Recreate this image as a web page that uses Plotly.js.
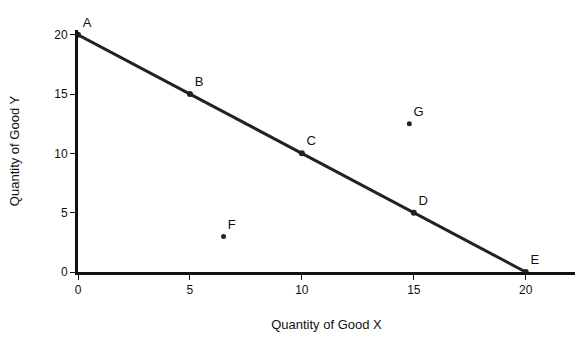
<!DOCTYPE html>
<html>
<head>
<meta charset="utf-8">
<script src="https://cdn.plot.ly/plotly-3.0.1.min.js"></script>
<style>html,body{margin:0;padding:0;background:#fff;}#chart{width:581px;height:358px;}</style>
</head>
<body>
<div id="chart"></div>
<script>
// Frontier points
const goodX = [0, 5, 10, 15, 20];
const goodY = [20, 15, 10, 5, 0];
const pointLabels = ["A", "B", "C", "D", "E"];
// Points off the frontier
const offX = [6.5, 14.8];
const offY = [3, 12.5];
const offLabels = ["F", "G"];
// Axis ticks
const xTicks = [0, 5, 10, 15, 20];
const yTicks = [0, 5, 10, 15, 20];
const xTitle = "Quantity of Good X";
const yTitle = "Quantity of Good Y";

const traces = [
  {
    x: goodX, y: goodY, mode: "lines+markers+text", type: "scatter",
    line: {color: "#222", width: 3},
    marker: {color: "#222", size: 6},
    text: pointLabels, textposition: "top right",
    textfont: {family: "Liberation Sans, Arial, sans-serif", size: 13, color: "#111"},
    cliponaxis: false, hoverinfo: "none"
  },
  {
    x: offX, y: offY, mode: "markers+text", type: "scatter",
    marker: {color: "#222", size: 5},
    text: offLabels, textposition: "top right",
    textfont: {family: "Liberation Sans, Arial, sans-serif", size: 13, color: "#111"},
    cliponaxis: false, hoverinfo: "none"
  }
];

const layout = {
  width: 581, height: 358,
  margin: {l: 78, r: 6, t: 30, b: 86},
  paper_bgcolor: "#fff", plot_bgcolor: "#fff",
  showlegend: false,
  font: {family: "Liberation Sans, Arial, sans-serif", size: 12, color: "#111"},
  xaxis: {
    range: [0, 22.2], tickvals: xTicks, ticktext: xTicks.map(String),
    showgrid: false, zeroline: false, showline: true, linecolor: "#111", linewidth: 3,
    ticks: "outside", ticklen: 5, tickcolor: "#111",
    title: {text: xTitle, font: {size: 13}, standoff: 24}
  },
  yaxis: {
    range: [0, 20.4], tickvals: yTicks, ticktext: yTicks.map(String),
    showgrid: false, zeroline: false, showline: true, linecolor: "#111", linewidth: 3,
    ticks: "outside", ticklen: 5, tickcolor: "#111",
    title: {text: yTitle, font: {size: 13}, standoff: 32}
  }
};

Plotly.newPlot("chart", traces, layout, {displayModeBar: false, staticPlot: true});
</script>
</body>
</html>
